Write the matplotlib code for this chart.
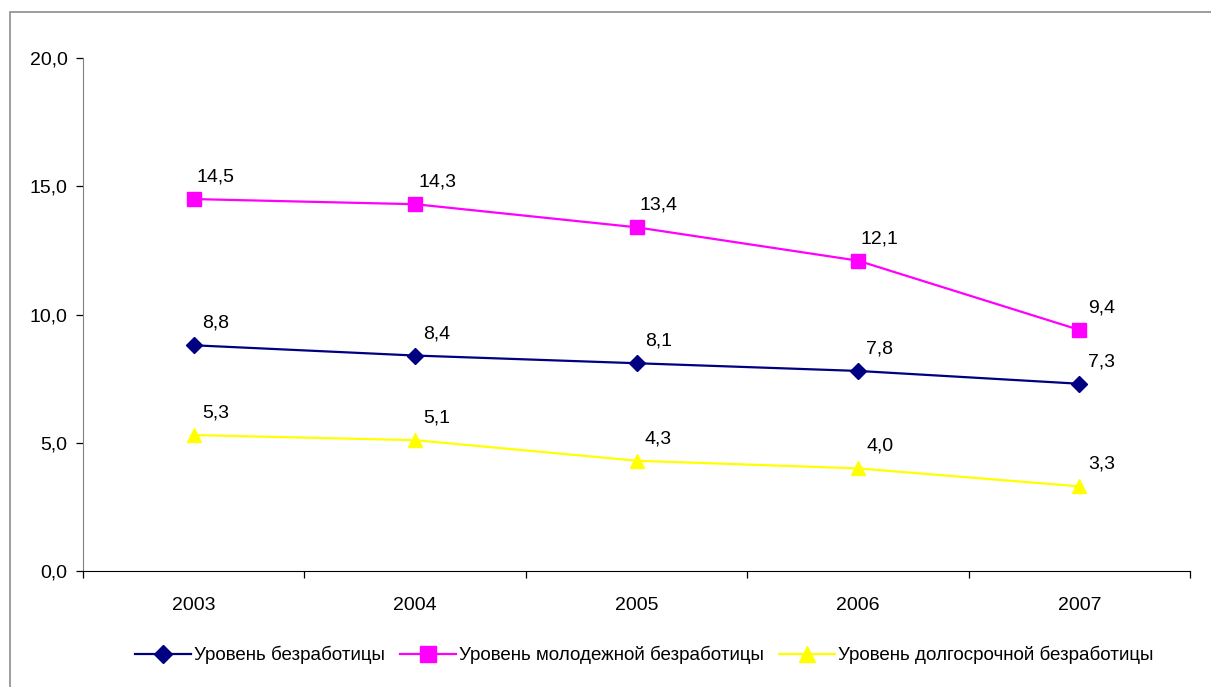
import matplotlib.pyplot as plt
from matplotlib.patches import Rectangle

years = ['2003', '2004', '2005', '2006', '2007']
total = [8.8, 8.4, 8.1, 7.8, 7.3]
youth = [14.5, 14.3, 13.4, 12.1, 9.4]
longterm = [5.3, 5.1, 4.3, 4.0, 3.3]

labels = ['Уровень безработицы',
          'Уровень молодежной безработицы',
          'Уровень долгосрочной безработицы']

plt.rcParams['font.family'] = ['Liberation Sans', 'DejaVu Sans']

fig = plt.figure(figsize=(12.11, 6.87), dpi=100)
ax = fig.add_axes([83 / 1211, 1 - 571 / 687, (1190 - 83) / 1211, (571 - 58) / 687])

# outer chart border (only left/top visible in the crop)
fig.patches.append(Rectangle((10 / 1211, -0.05), 1.2, 1 - 12 / 687 + 0.05,
                             transform=fig.transFigure, fill=False,
                             edgecolor='#8c8c8c', linewidth=1.2))

x = list(range(len(years)))
series = [
    (total, '#000080', 'D', 8),
    (youth, '#ff00ff', 's', 9.5),
    (longterm, '#ffff00', '^', 10.5),
]
for (vals, col, mk, ms), lab in zip(series, labels):
    ax.plot(x, vals, color=col, marker=mk, markersize=ms, linewidth=1.6,
            label=lab, clip_on=False)
    for xi, v in zip(x, vals):
        ax.annotate(('%.1f' % v).replace('.', ','), (xi, v),
                    xytext=(22, 22), textcoords='offset pixels',
                    ha='center', va='center', fontsize=14)

ax.set_xlim(-0.5, len(years) - 0.5)
ax.set_ylim(0, 20)
ax.set_yticks([0, 5, 10, 15, 20])
ax.set_yticklabels([('%.1f' % t).replace('.', ',') for t in [0, 5, 10, 15, 20]])
ax.set_xticks(x)
ax.set_xticklabels(years)
ax.set_xticks([i - 0.5 for i in range(len(years) + 1)], minor=True)
ax.tick_params(axis='x', which='major', length=0, pad=19, labelsize=14)
ax.tick_params(axis='x', which='minor', length=5, direction='out', width=0.9)
ax.tick_params(axis='y', length=5, width=0.9, pad=6, labelsize=14)

for s in ['top', 'right']:
    ax.spines[s].set_visible(False)
ax.spines['left'].set_color('#808080')
ax.spines['bottom'].set_color('black')

leg = fig.legend(loc='center', bbox_to_anchor=(644 / 1211, 1 - 655 / 687),
                 ncol=3, frameon=False, handlelength=3.0, handletextpad=0.15,
                 columnspacing=0.8, markerscale=1.15,
                 prop={'family': ['Liberation Sans Narrow', 'Liberation Sans'], 'size': 13.5})

fig.savefig('out.png', dpi=100)
